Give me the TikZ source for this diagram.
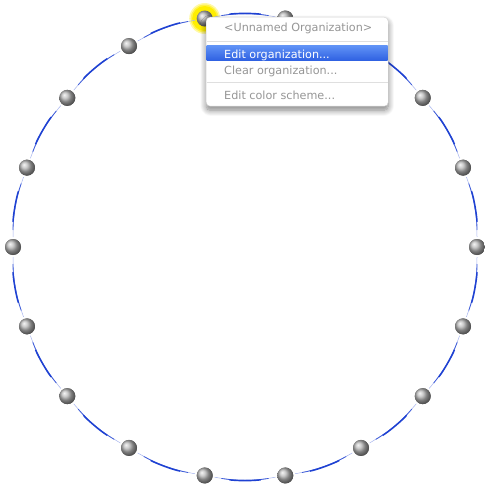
\documentclass[tikz,border=0pt]{standalone}
\usepackage{fontspec}
\setmainfont{DejaVu Sans}
\usetikzlibrary{calc,shadows.blur}
\definecolor{edgeblue}{RGB}{30,65,210}
\definecolor{menugray}{RGB}{150,150,150}
\definecolor{hltop}{RGB}{95,145,245}
\definecolor{hlbot}{RGB}{45,95,225}
\definecolor{glow}{RGB}{255,238,0}
\tikzset{
  ballnode/.style={circle, minimum size=16pt, inner sep=0pt, ball color=black!28},
  edgefaint/.style={draw=edgeblue!40, line width=0.5pt, shorten <=10pt, shorten >=10pt},
  edgemid/.style={draw=edgeblue!85, line width=0.8pt, shorten <=17pt, shorten >=17pt},
  edgethick/.style={draw=edgeblue, line width=1.4pt, shorten <=25pt, shorten >=25pt},
  menuitem/.style={anchor=base west, inner sep=0pt, font=\fontsize{11.2}{13}\selectfont},
}
\begin{document}
\begin{tikzpicture}[x=1pt,y=-1pt]
\useasboundingbox (0,0) rectangle (484,489);
% nodes
\foreach \i in {0,...,17}
  \node[ballnode] (n\i) at ({245+232*cos(20*\i)},{247-232*sin(20*\i)}) {};
% glow behind highlighted node
\fill[glow!35] (n5.center) circle (15.5);
\fill[glow!70] (n5.center) circle (14);
\fill[glow] (n5.center) circle (12.5);
% edges (circular arcs)
\foreach \i [evaluate=\i as \j using {int(mod(\i+1,18))}] in {0,...,17} {
  \draw[edgefaint] (n\i.center) to[bend right=10] (n\j.center);
  \draw[edgemid] (n\i.center) to[bend right=10] (n\j.center);
  \draw[edgethick] (n\i.center) to[bend right=10] (n\j.center);
}
% redraw balls on top
\foreach \i in {0,...,17}
  \node[ballnode] at (n\i) {};
% menu
\node[draw=gray!35, fill=white, rounded corners=4pt, minimum width=182pt, minimum height=89pt, inner sep=0pt, anchor=north west,
  blur shadow={shadow blur steps=10, shadow xshift=0pt, shadow yshift=-4pt, shadow blur radius=6pt, shadow opacity=50}] (menu) at (206,17) {};
\draw[gray!25, line width=0.8pt] (206.5,41) -- (387.5,41);
\draw[gray!25, line width=0.8pt] (206.5,82) -- (387.5,82);
\shade[top color=hltop, bottom color=hlbot] (206.5,46) rectangle (387.5,61);
\node[menuitem, text=menugray] (t1) at (224,32) {<Unnamed Organization>};
\node[menuitem, text=white] (t2) at (224,58.5) {Edit organization...};
\node[menuitem, text=menugray] (t3) at (224,75) {Clear organization...};
\node[menuitem, text=menugray] (t4) at (224,100) {Edit color scheme...};
\end{tikzpicture}
\end{document}
